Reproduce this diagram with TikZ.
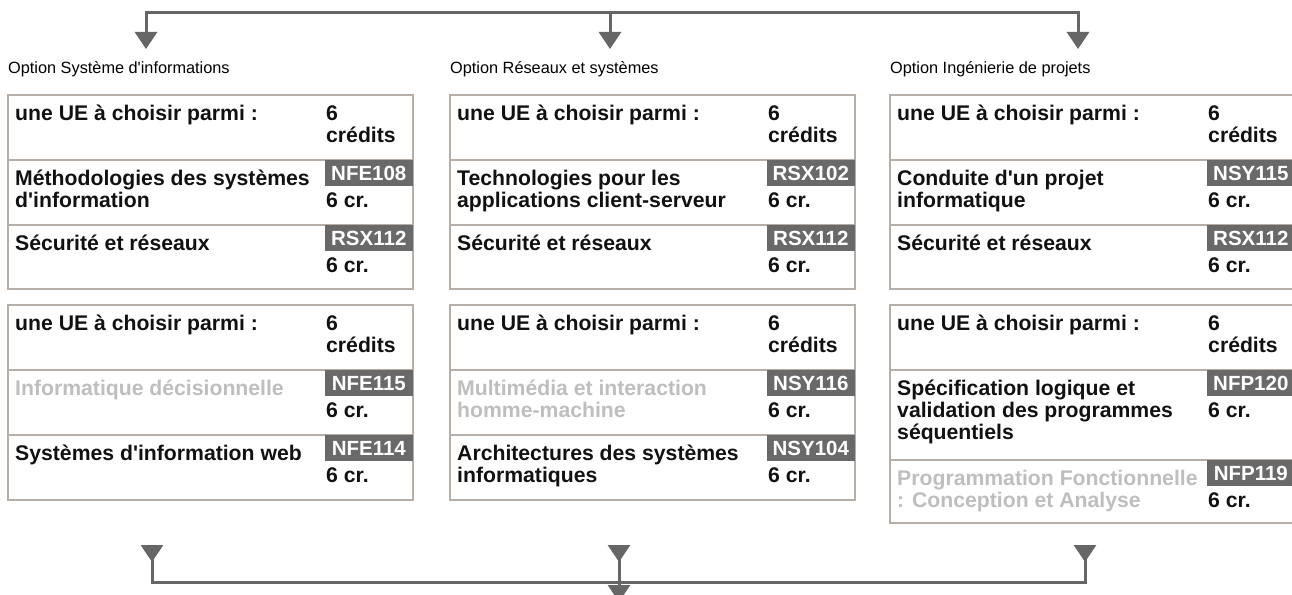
\documentclass[tikz,border=0pt]{standalone}
\usepackage{fontspec}
\setmainfont{Liberation Sans}
\usetikzlibrary{arrows.meta}

\definecolor{uetxt}{RGB}{17,17,17}
\definecolor{uegray}{RGB}{190,190,190}
\definecolor{uebord}{RGB}{183,174,167}
\definecolor{badgegray}{RGB}{105,105,105}
\definecolor{flowgray}{RGB}{102,102,102}

% frame of one block: x, top, first separator, second separator, bottom
\newcommand\uebox[5]{\draw[boxline] (#1,#2) rectangle (#1+405,#5);
  \draw[boxline] (#1,#3) -- (#1+405,#3);
  \draw[boxline] (#1,#4) -- (#1+405,#4);}
% first row of a block: name, x, top
\newcommand\uehead[3]{\node[uetext] (#1t) at (#2+7,#3+25) {une UE à choisir parmi :};
  \node[uetext] (#1n) at (#2+318,#3+25) {6};
  \node[uetext] (#1c) at (#2+318,#3+47) {crédits};}
% course row: name, x, top, style, lines, code
\newcommand\uerow[6]{\foreach \uel [count=\k] in {#5}
    \node[#4] (#1t\k) at (#2+7,#3+3+22*\k) {\uel};
  \node[badge] (#1b) at (#2+405,#3) {#6};
  \node[uetext] (#1c) at (#2+318,#3+47) {6 cr.};}
\newcommand\q{\textquotesingle}

\begin{document}
\begin{tikzpicture}[x=1pt,y=-1pt,
    uetext/.style={font=\bfseries\fontsize{21.2}{22}\selectfont, text=uetxt, anchor=base west, inner sep=0pt},
    graytext/.style={uetext, text=uegray},
    badge/.style={font=\bfseries\fontsize{20.5}{22}\selectfont, fill=badgegray, text=white, anchor=north east,
      minimum width=88pt, minimum height=26pt, inner sep=0pt},
    optlbl/.style={font=\fontsize{16.3}{18}\selectfont, anchor=base west, inner sep=0pt},
    boxline/.style={draw=uebord, line width=2.2pt},
    flowline/.style={draw=flowgray, line width=3pt},
    flowtip/.tip={Triangle[width=22pt,length=17pt]},
    flowtipr/.tip={Triangle[reversed,width=22pt,length=17pt]}]
\useasboundingbox (0,0) rectangle (1292,594);

\node[optlbl] (optSI) at (8,74) {Option Système d\q informations};
\node[optlbl] (optRS) at (450,74) {Option Réseaux et systèmes};
\node[optlbl] (optIP) at (890,74) {Option Ingénierie de projets};

% incoming split
\coordinate (topM) at (610,12.7);
\coordinate (topR) at (1078,12.7);
\coordinate (inSI) at (146,49);
\coordinate (inRS) at (610,49);
\coordinate (inIP) at (1078,49);
\draw[flowline,flowtip-flowtip] (inSI) |- (topR) -- (inIP);
\draw[flowline,-flowtip] (topM) -- (inRS);

\uebox{8}{95}{160}{225}{289}
\uebox{450}{95}{160}{225}{289}
\uebox{890}{95}{160}{225}{289}
\uebox{8}{305}{370}{435}{500}
\uebox{450}{305}{370}{435}{500}
\uebox{890}{305}{370}{460}{523}

\uehead{siA}{8}{95}
\uerow{siAm}{8}{160}{uetext}{Méthodologies des systèmes,d\q information}{NFE108}
\uerow{siAs}{8}{225}{uetext}{Sécurité et réseaux}{RSX112}
\uehead{siB}{8}{305}
\uerow{siBi}{8}{370}{graytext}{Informatique décisionnelle}{NFE115}
\uerow{siBw}{8}{435}{uetext}{Systèmes d\q information web}{NFE114}

\uehead{rsA}{450}{95}
\uerow{rsAt}{450}{160}{uetext}{Technologies pour les,applications client-serveur}{RSX102}
\uerow{rsAs}{450}{225}{uetext}{Sécurité et réseaux}{RSX112}
\uehead{rsB}{450}{305}
\uerow{rsBm}{450}{370}{graytext}{Multimédia et interaction,homme-machine}{NSY116}
\uerow{rsBa}{450}{435}{uetext}{Architectures des systèmes,informatiques}{NSY104}

\uehead{ipA}{890}{95}
\uerow{ipAc}{890}{160}{uetext}{Conduite d\q un projet,informatique}{NSY115}
\uerow{ipAs}{890}{225}{uetext}{Sécurité et réseaux}{RSX112}
\uehead{ipB}{890}{305}
\uerow{ipBs}{890}{370}{uetext}{Spécification logique et,validation des programmes,séquentiels}{NFP120}
\uerow{ipBp}{890}{460}{graytext}{Programmation Fonctionnelle,: Conception et Analyse}{NFP119}

% outgoing merge
\coordinate (outSI) at (152,545);
\coordinate (outRS) at (619,545);
\coordinate (outIP) at (1085,545);
\coordinate (joinR) at (1085,582);
\coordinate (nextUE) at (619,602);
\draw[flowline,flowtipr-flowtipr] (outSI) |- (joinR) -- (outIP);
\draw[flowline,flowtipr-flowtip] (outRS) -- (nextUE);
\end{tikzpicture}
\end{document}
